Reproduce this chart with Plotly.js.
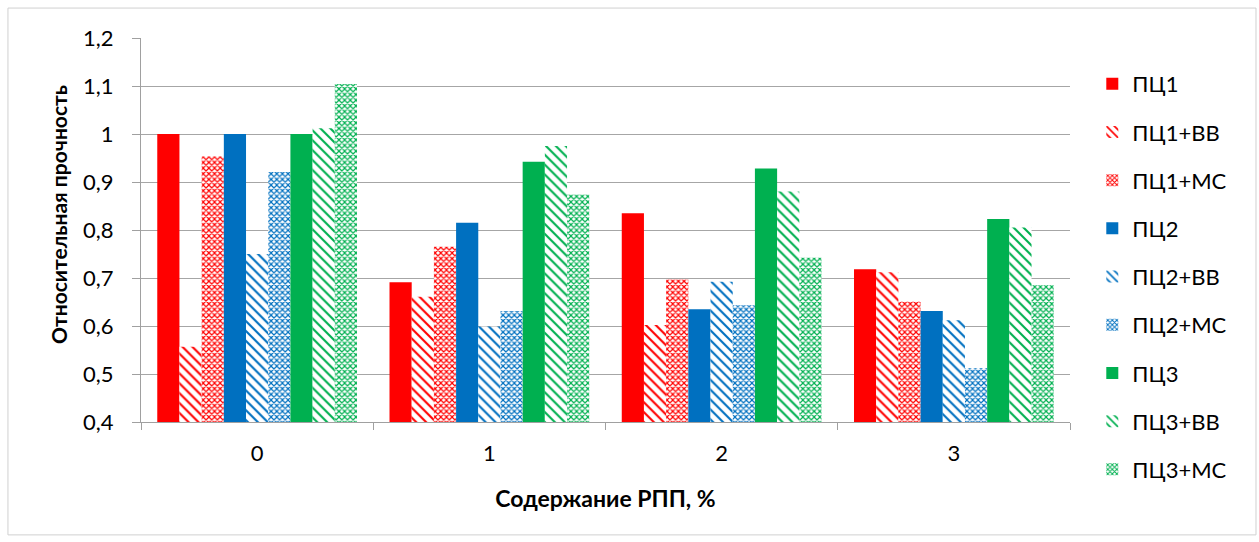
<!DOCTYPE html>
<html><head><meta charset="utf-8">
<script src="https://cdn.plot.ly/plotly-3.0.1.min.js"></script>
<style>body{margin:0;padding:0;background:#fff}#chart{width:1259px;height:542px}</style>
</head><body><div id="chart"></div>
<script>
const categories = ['0', '1', '2', '3'];
const seriesNames = ['ПЦ1', 'ПЦ1+ВВ', 'ПЦ1+МС', 'ПЦ2', 'ПЦ2+ВВ', 'ПЦ2+МС', 'ПЦ3', 'ПЦ3+ВВ', 'ПЦ3+МС'];
const pc1    = [1.000, 0.691, 0.835, 0.718];
const pc1vv  = [0.557, 0.661, 0.602, 0.712];
const pc1ms  = [0.953, 0.765, 0.697, 0.651];
const pc2    = [1.000, 0.815, 0.635, 0.631];
const pc2vv  = [0.750, 0.599, 0.692, 0.612];
const pc2ms  = [0.921, 0.631, 0.643, 0.512];
const pc3    = [1.000, 0.942, 0.928, 0.823];
const pc3vv  = [1.012, 0.975, 0.880, 0.805];
const pc3ms  = [1.104, 0.874, 0.742, 0.685];
const yTickVals = [0.4, 0.5, 0.6, 0.7, 0.8, 0.9, 1.0, 1.1, 1.2];
const yTickText = ['0,4', '0,5', '0,6', '0,7', '0,8', '0,9', '1', '1,1', '1,2'];

const values = [pc1, pc1vv, pc1ms, pc2, pc2vv, pc2ms, pc3, pc3vv, pc3ms];
const colors = ['#FF0000', '#FF0000', '#FF0000', '#0070C0', '#0070C0', '#0070C0', '#00B050', '#00B050', '#00B050'];
const kinds = ['solid', 'vv', 'ms', 'solid', 'vv', 'ms', 'solid', 'vv', 'ms'];

const traces = values.map((v, i) => {
  let pattern = {shape: ''};
  if (kinds[i] === 'vv') pattern = {shape: '\\', fgcolor: colors[i], bgcolor: '#ffffff', size: 7, solidity: 0.3, fillmode: 'replace'};
  if (kinds[i] === 'ms') pattern = {shape: 'x', fgcolor: colors[i], bgcolor: '#ffffff', size: 4, solidity: 0.5, fillmode: 'replace'};
  return {
    type: 'bar', name: seriesNames[i], x: categories, y: v,
    legendgroup: 'g' + i,
    marker: {color: kinds[i] === 'solid' ? colors[i] : '#ffffff', pattern: pattern, line: {width: 0}},
    hoverinfo: 'name+y'
  };
});

const FONT = 'Lato, Carlito, Calibri, sans-serif';
const layout = {
  width: 1259, height: 542,
  margin: {l: 141, r: 189, t: 38, b: 120},
  paper_bgcolor: '#ffffff', plot_bgcolor: '#ffffff',
  barmode: 'group', bargap: 0.14, bargroupgap: 0,
  font: {family: FONT, size: 22, color: '#000'},
  showlegend: true,
  legend: {x: 1.024, y: 0.935, xanchor: 'left', yanchor: 'top', font: {family: FONT, size: 22, color: '#000'},
           tracegroupgap: 16.6, itemwidth: 30, maxheight: 520, bgcolor: 'rgba(0,0,0,0)'},
  xaxis: {
    type: 'category', tickson: 'boundaries', ticks: 'outside', ticklen: 7, tickcolor: '#a0a0a0',
    showline: true, linecolor: '#a0a0a0', linewidth: 1, showgrid: false,
    tickfont: {family: FONT, size: 22}, ticklabelstandoff: 12,
    title: {text: '<b>Содержание РПП, %</b>', font: {family: FONT, size: 23}, standoff: 25}
  },
  yaxis: {
    range: [0.4, 1.2], tickvals: yTickVals, ticktext: yTickText,
    ticks: 'outside', ticklen: 8, tickcolor: '#a0a0a0',
    showline: true, linecolor: '#a0a0a0', linewidth: 1,
    showgrid: true, gridcolor: '#a6a6a6', gridwidth: 1, zeroline: false,
    tickfont: {family: FONT, size: 22}, ticklabelstandoff: 14
  },
  annotations: [{text: '<b>Относительная прочность</b>', xref: 'paper', yref: 'paper',
                 x: -0.0893, y: 0.539, xanchor: 'center', yanchor: 'middle', textangle: -90,
                 showarrow: false, font: {family: FONT, size: 21, color: '#000'}}],
  shapes: [{type: 'rect', xref: 'paper', yref: 'paper', x0: -0.1432, x1: 1.2002, y0: -0.294, y1: 1.078,
            line: {color: '#d0d0d0', width: 1}, fillcolor: 'rgba(0,0,0,0)', layer: 'below'}]
};

Plotly.newPlot('chart', traces, layout, {displayModeBar: false, staticPlot: true});
</script></body></html>
